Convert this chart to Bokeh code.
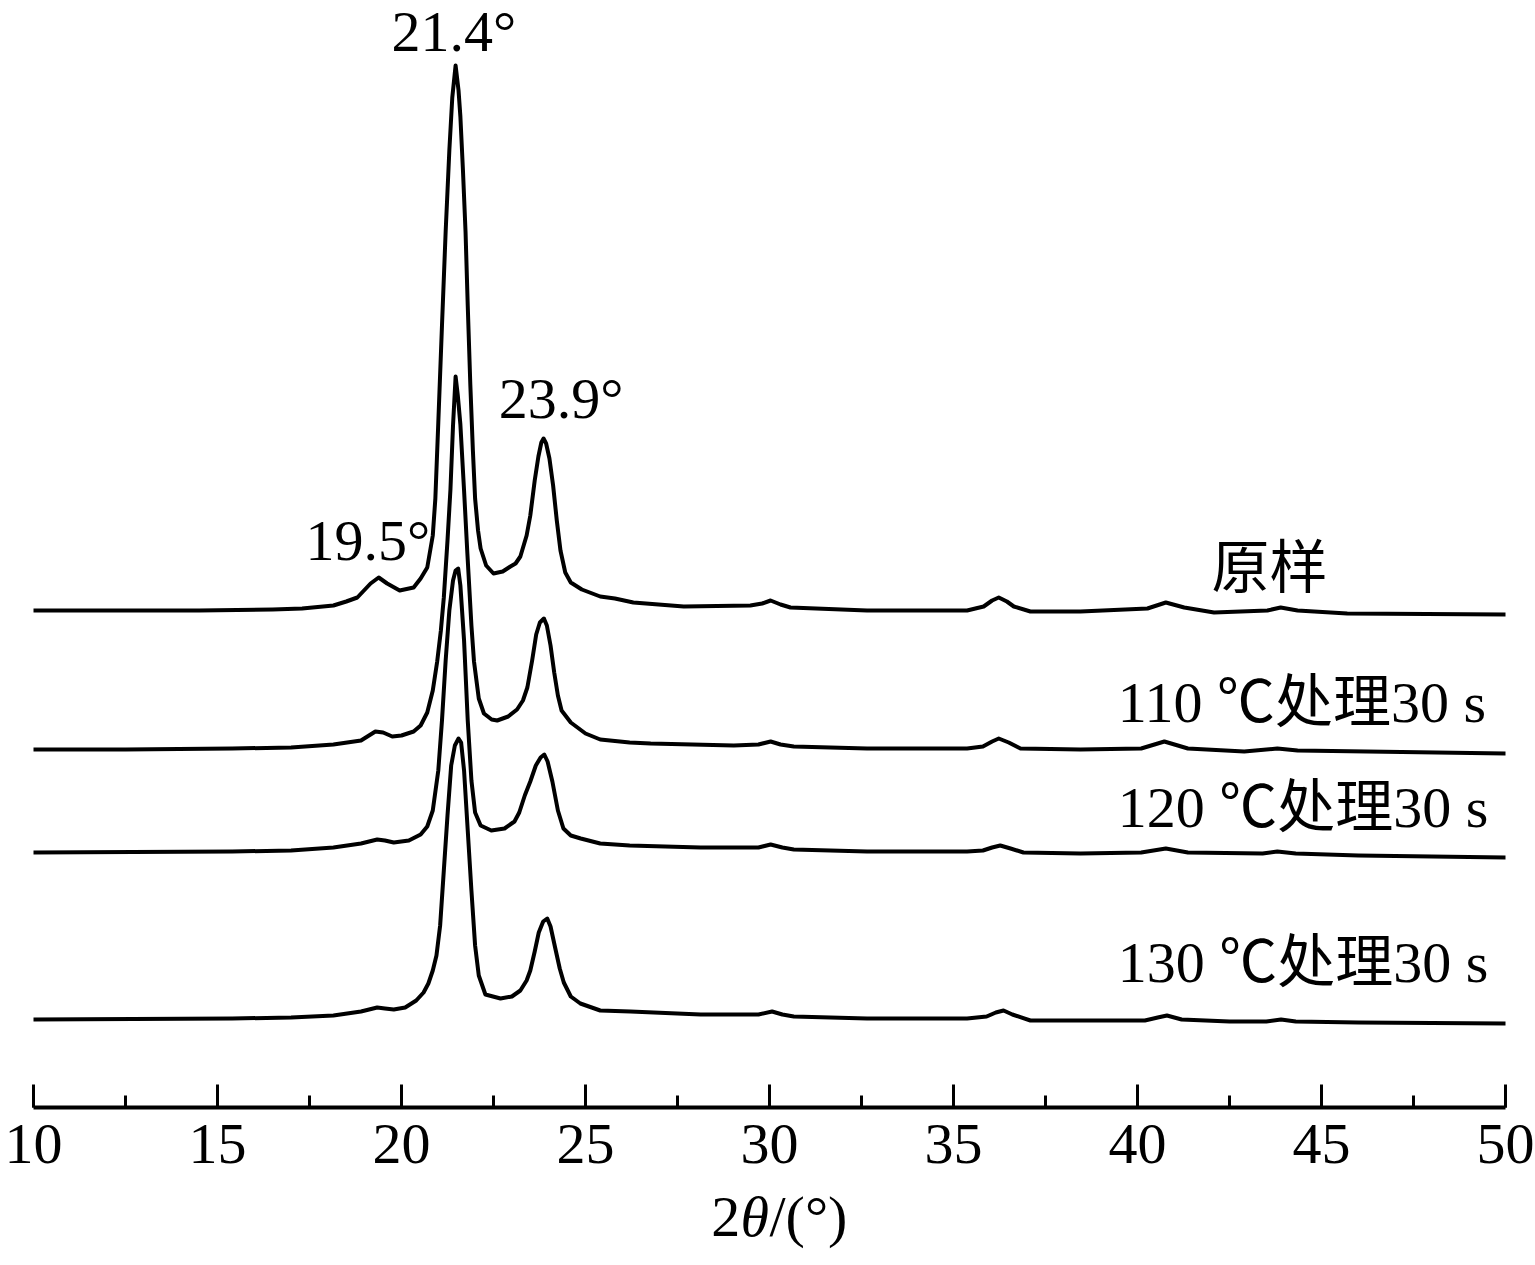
from bokeh.plotting import figure
from bokeh.models import Range1d, LinearAxis, SingleIntervalTicker, Label
from bokeh.layouts import column
from bokeh.embed import file_html
from bokeh.resources import INLINE

# ---- data (2theta in degrees, intensity in arbitrary units) ----
x_raw = [10.0, 12.0, 14.5, 16.5, 17.3, 18.15, 18.5, 18.8, 19.16, 19.38, 19.61, 19.95, 20.33, 20.52, 20.7,
         20.85, 20.92, 21.0, 21.1, 21.2, 21.3, 21.38, 21.47, 21.55, 21.6, 21.67, 21.74, 21.8, 21.87, 21.94,
         22.0, 22.08, 22.15, 22.3, 22.5, 22.75, 22.96, 23.1, 23.23, 23.4, 23.5, 23.62, 23.72, 23.8, 23.86,
         23.93, 24.02, 24.12, 24.22, 24.32, 24.45, 24.6, 24.9, 25.4, 25.8, 26.3, 27.67, 29.48, 29.8, 30.03,
         30.3, 30.57, 32.65, 35.37, 35.82, 36.05, 36.23, 36.45, 36.64, 37.09, 38.45, 40.27, 40.77, 41.27,
         42.08, 43.53, 43.89, 44.35, 45.7, 50.0]
i_raw = [4, 4, 4, 5, 6, 9, 13, 17, 31, 37, 31, 24, 27, 36, 47, 79, 116, 192, 289, 383,
         464, 517, 549, 524, 498, 444, 383, 309, 230, 164, 116, 84, 66, 49, 41, 43, 48, 51, 58, 79,
         99, 134, 158, 172, 176, 171, 156, 129, 94, 64, 42, 32, 25, 18, 16, 12, 8, 9, 11, 14,
         10, 7, 4, 4, 8, 14, 17, 13, 8, 3, 3, 6, 12, 7, 2, 4, 7, 4, 1, 0]

x_110 = [10.0, 12.5, 15.4, 17.0, 18.15, 18.9, 19.29, 19.5, 19.75, 20.0, 20.33, 20.52, 20.7, 20.85, 20.97,
         21.07, 21.15, 21.25, 21.33, 21.4, 21.47, 21.53, 21.6, 21.7, 21.79, 21.9, 21.97, 22.1, 22.24, 22.45,
         22.6, 22.9, 23.14, 23.3, 23.42, 23.55, 23.66, 23.76, 23.87, 23.95, 24.05, 24.15, 24.25, 24.35, 24.6,
         25.0, 25.4, 26.2, 26.77, 29.03, 29.7, 30.03, 30.3, 30.66, 32.65, 35.37, 35.8, 36.05, 36.23, 36.5,
         36.82, 38.45, 40.1, 40.73, 41.37, 42.9, 43.8, 44.35, 50.0]
i_110 = [4, 4, 5, 6, 9, 13, 22, 21, 17, 18, 22, 28, 41, 63, 92, 123, 156, 213, 264, 328,
         377, 358, 329, 263, 200, 128, 92, 55, 40, 34, 33, 37, 44, 53, 66, 93, 119, 131, 135, 128,
         108, 81, 58, 43, 31, 20, 14, 11, 10, 8, 9, 12, 9, 7, 5, 5, 7, 12, 15, 11,
         5, 4, 5, 12, 5, 2, 5, 3, 0]

x_120 = [10.0, 15.4, 17.0, 18.15, 18.9, 19.34, 19.55, 19.79, 20.2, 20.52, 20.7, 20.85, 21.0, 21.1, 21.2,
         21.3, 21.4, 21.47, 21.54, 21.6, 21.7, 21.8, 21.9, 22.0, 22.15, 22.44, 22.8, 23.07, 23.2, 23.35,
         23.5, 23.65, 23.78, 23.88, 23.97, 24.1, 24.25, 24.4, 24.6, 24.87, 25.4, 26.2, 28.13, 29.7, 30.03,
         30.35, 30.66, 32.65, 35.37, 35.8, 36.05, 36.27, 36.55, 36.9, 38.45, 40.1, 40.77, 41.37, 43.4, 43.8,
         44.3, 46.0, 50.0]
i_120 = [5, 6, 7, 10, 14, 18, 17, 15, 17, 23, 31, 47, 87, 137, 197, 247, 277, 287, 289, 272,
         217, 137, 77, 45, 32, 27, 29, 36, 45, 62, 76, 92, 100, 103, 96, 76, 47, 29, 22, 19,
         14, 12, 10, 10, 13, 10, 8, 6, 6, 7, 10, 12, 9, 5, 4, 5, 9, 5, 4, 6,
         4, 2, 0]

x_130 = [10.0, 15.4, 17.0, 18.15, 18.9, 19.34, 19.55, 19.79, 20.1, 20.4, 20.6, 20.73, 20.85, 20.95, 21.05,
         21.15, 21.25, 21.35, 21.45, 21.55, 21.62, 21.7, 21.8, 21.9, 22.0, 22.1, 22.28, 22.69, 23.0, 23.23,
         23.4, 23.5, 23.62, 23.73, 23.85, 23.96, 24.05, 24.18, 24.3, 24.41, 24.6, 24.86, 25.4, 26.22, 28.13,
         29.7, 30.07, 30.35, 30.66, 32.65, 35.37, 35.9, 36.15, 36.36, 36.6, 37.09, 38.99, 40.2, 40.55, 40.8,
         41.2, 42.5, 43.5, 43.9, 44.3, 46.0, 50.0]
i_130 = [4, 5, 6, 8, 12, 16, 15, 14, 16, 23, 31, 40, 53, 68, 98, 153, 208, 258, 278, 285,
         281, 253, 193, 133, 78, 48, 29, 25, 27, 33, 43, 53, 72, 91, 102, 105, 97, 75, 55, 41,
         27, 20, 13, 12, 9, 9, 12, 9, 7, 5, 5, 7, 11, 13, 9, 3, 3, 3, 6, 8,
         4, 2, 2, 4, 2, 1, 0]

series_x = [x_raw, x_110, x_120, x_130]
series_i = [i_raw, i_110, i_120, i_130]
offsets = [493, 354, 250, 84]

series_names = ["原样", "110 ℃处理30 s", "120 ℃处理30 s", "130 ℃处理30 s"]
name_pos = [(42.01, 539), (39.46, 405), (39.46, 300), (39.46, 145)]

peak_labels = ["21.4°", "23.9°", "19.5°"]
peak_pos = [(19.73, 1076), (22.64, 709), (17.39, 567)]

x_ticks_interval = 5
x_min, x_max = 10, 50
y_min, y_max = 0, 1099

SERIF = "Liberation Serif"
MIXED = "Liberation Serif, Noto Sans CJK SC"
FS = "58px"

p = figure(width=1535, height=1176,
           x_range=Range1d(x_min, x_max), y_range=Range1d(y_min, y_max),
           x_axis_location=None, y_axis_location=None,
           output_backend="svg", toolbar_location=None,
           min_border_left=33, min_border_right=30,
           min_border_top=8, min_border_bottom=69)
p.outline_line_color = None
p.background_fill_color = "white"
p.border_fill_color = "white"
p.xgrid.visible = False
p.ygrid.visible = False

for xs, ys, off in zip(series_x, series_i, offsets):
    p.line(xs, [v + off for v in ys], line_color="black", line_width=4,
           line_join="round", line_cap="round")

ax = LinearAxis(ticker=SingleIntervalTicker(interval=x_ticks_interval, num_minor_ticks=2))
ax.axis_line_width = 4
ax.axis_line_color = "black"
ax.major_tick_line_width = 3
ax.major_tick_line_color = "black"
ax.major_tick_in = 23
ax.major_tick_out = 0
ax.minor_tick_line_width = 3
ax.minor_tick_line_color = "black"
ax.minor_tick_in = 12
ax.minor_tick_out = 0
ax.major_label_text_font = SERIF
ax.major_label_text_font_size = FS
ax.major_label_text_color = "black"
ax.major_label_standoff = 17
p.add_layout(ax, "below")

for txt, (xx, yy) in zip(peak_labels, peak_pos):
    p.add_layout(Label(x=xx, y=yy, text=txt, text_font=SERIF, text_font_size=FS,
                       text_color="black", text_align="left", text_baseline="alphabetic"))

for txt, (xx, yy) in zip(series_names, name_pos):
    p.add_layout(Label(x=xx, y=yy, text=txt, text_font=MIXED, text_font_size=FS,
                       text_color="black", text_align="left", text_baseline="alphabetic"))

# strip below the axis for the axis title 2θ/(°) (italic theta)
p2 = figure(width=1535, height=86,
            x_range=Range1d(x_min, x_max), y_range=Range1d(0, 86),
            x_axis_location=None, y_axis_location=None,
            output_backend="svg", toolbar_location=None,
            min_border_left=33, min_border_right=30,
            min_border_top=0, min_border_bottom=0)
p2.outline_line_color = None
p2.xgrid.visible = False
p2.ygrid.visible = False
p2.background_fill_color = "white"
p2.border_fill_color = "white"
for txt, xx, style in [("2", 28.42, "normal"), ("θ", 29.21, "italic"), ("/(°)", 30.0, "normal")]:
    p2.add_layout(Label(x=xx, y=46, text=txt, text_font=SERIF, text_font_size=FS,
                        text_font_style=style, text_color="black",
                        text_align="left", text_baseline="alphabetic"))

layout = column(p, p2, spacing=0)
open("out.html", "w").write(file_html(layout, INLINE))
